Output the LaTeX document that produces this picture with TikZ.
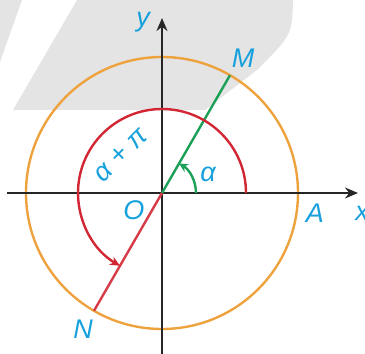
\documentclass[tikz,border=0pt]{standalone}
\usepackage{fontspec}
\setmainfont{Liberation Sans}
\usetikzlibrary{arrows.meta,calc}
\definecolor{circorange}{RGB}{238,162,62}
\definecolor{arcred}{RGB}{210,38,52}
\definecolor{lngreen}{RGB}{28,160,88}
\definecolor{lblblue}{RGB}{22,160,220}
\definecolor{wmgray}{RGB}{228,228,228}
\tikzset{
  lbl/.style={text=lblblue, font=\fontsize{27}{27}\selectfont\itshape, inner sep=0pt},
  axis/.style={line width=2.6pt, black!85, -{Stealth[length=13pt,width=11pt]}},
  thick line/.style={line width=2.4pt},
}
\begin{document}
\begin{tikzpicture}[x=1pt,y=1pt]
\useasboundingbox (0,0) rectangle (365,-354);
\clip (0,0) rectangle (365,-354);
% watermark background
\fill[wmgray] (77,0) -- (293,0) .. controls (292,-35) .. (257,-70) -- (205,-110) -- (13,-110) -- cycle;
\fill[wmgray] (0,0) -- (22,0) -- (0,-62) -- cycle;
% points
\coordinate (O) at (162,-193);
\coordinate (Xs) at (7,-193);
\coordinate (Xe) at (358,-193);
\coordinate (Ys) at (162,-354);
\coordinate (Ye) at (162,-18);
\coordinate (M) at ($(O)+(60:136)$);
\coordinate (N) at ($(O)+(240:136)$);
% unit circle
\draw[circorange, thick line] (O) circle[radius=136];
% axes
\draw[axis] (Xs) -- (Xe);
\draw[axis] (Ys) -- (Ye);
% lines OM, ON
\draw[lngreen, thick line] (O) -- (M);
\draw[arcred!90!white, thick line] (O) -- (N);
% arcs
\draw[arcred, thick line, -{Stealth[length=10pt,width=9pt]}] ($(O)+(0:84)$) arc[start angle=0, end angle=240, radius=84];
\draw[lngreen, thick line, -{Stealth[length=9pt,width=9pt]}] ($(O)+(0:34)$) arc[start angle=0, end angle=60, radius=34];
% labels
\node[lbl] (ly) at (143,-22) {y};
\node[lbl] (lM) at (243,-58) {M};
\node[lbl, rotate=45] (lap) at (121,-155) {α + π};
\node[lbl] (la) at (208,-174) {α};
\node[lbl] (lO) at (134,-210) {O};
\node[lbl] (lA) at (315,-213) {A};
\node[lbl] (lx) at (362,-213) {x};
\node[lbl] (lN) at (83,-329) {N};
\end{tikzpicture}
\end{document}
